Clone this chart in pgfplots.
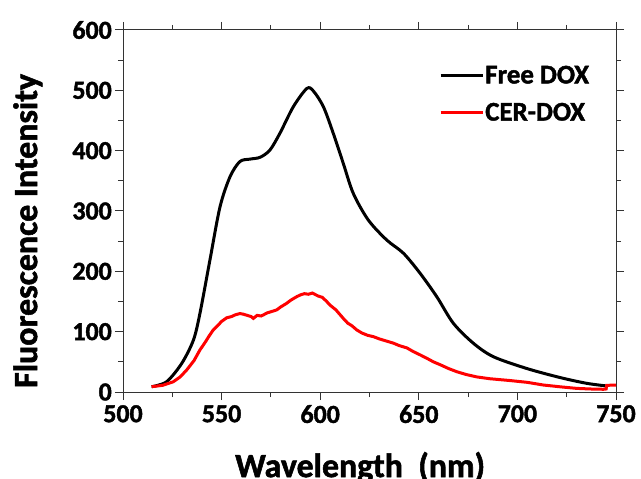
\documentclass[border=0pt]{standalone}
\usepackage{fontspec}
\setmainfont{Carlito}[BoldFeatures={FakeBold=1.6}]
\usepackage{pgfplots}
\pgfplotsset{compat=1.18}
\begin{document}
\begin{tikzpicture}
\useasboundingbox (0,0) rectangle (641bp,479bp);
\clip (0,0) rectangle (641bp,479bp);
\begin{axis}[
  at={(123bp,87bp)}, anchor=south west,
  scale only axis, width=493bp, height=362bp,
  xmin=500, xmax=750, ymin=0, ymax=600,
  xtick={500,550,...,750}, ytick={0,100,...,600},
  minor x tick num=1, minor y tick num=1,
  tick align=outside, tick pos=both,
  major tick length=8bp, minor tick length=5bp,
  axis line style={line width=1bp, black!80},
  every tick/.style={line width=1bp, black!80},
  /pgf/number format/assume math mode=true,
  ticklabel style={font=\fontsize{26}{26}\selectfont\bfseries, inner sep=0bp},
  xticklabel style={yshift=-5bp},
  yticklabel style={xshift=-3bp},
  xlabel={Wavelength\ \ (nm)},
  ylabel={Fluorescence Intensity},
  label style={font=\fontsize{34}{34}\selectfont\bfseries},
  xlabel style={at={(axis description cs:0.481,-0.235)}, anchor=base},
  ylabel style={at={(axis description cs:-0.193,0.445)}, anchor=center},
  legend style={draw=none, fill=none, at={(axis description cs:0.635,0.91)}, anchor=north west,
    font=\fontsize{27}{27}\selectfont\bfseries,
    row sep=16bp,
    nodes={inner sep=1bp}},
  legend cell align=left,
  legend image code/.code={\draw[#1] (0bp,0bp) -- (42bp,0bp);},
]
\addplot[black, line width=3bp, smooth] coordinates {
(514.5,8.8) (522.1,17) (529.8,47.5) (535.7,86) (539,130) (544.1,219) (549.2,307)
(554.3,357) (559.3,382) (564.4,386) (569.5,389) (574.5,401) (579.6,429) (586.4,473)
(593.2,503) (596.5,499) (601.6,473) (606.6,429) (611.7,379) (616.8,329) (624.4,285)
(633.7,252) (642.2,230) (650.6,197) (659.1,158) (667.5,114) (677.6,81) (687.8,58.5)
(704.7,39) (721.6,24) (735.1,14.4) (745.3,10)
};
\addlegendentry{Free DOX}
\addplot[red, line width=3bp] coordinates {
(514.5,8.8) (520,11) (525.5,17) (529,25) (532.3,36.5) (536,52) (539,69.6) (542,84) (543.5,92) (545.8,103)
(548,110) (550,117) (552.6,123) (555,125) (557,128) (559.3,130) (561,129) (563,127) (565,125) (566.1,122)
(568,127) (570,126) (571.1,127.6) (573,131) (575,133) (577.9,136) (580,141) (583,147) (585,152) (588.1,158)
(590,161) (592,163) (594,162) (596,164) (599,159) (601,157) (603,151) (605,144) (608,136) (611.7,122)
(614,114) (616,110) (618.5,103) (621,98) (624,94) (627,91.7) (630,88) (633,85) (637.1,81) (640,77)
(644,73) (647.2,67) (651,61) (654,56) (657.4,50) (661,45) (665,39) (669.2,33.7) (674,29) (679.4,25)
(686,22) (696.2,19) (705,16) (713.1,11.6) (722,8.5) (730,6) (737,5) (743.6,4.5) (745,5) (745.3,11) (750,11.6)
};
\addlegendentry{CER-DOX}
\end{axis}
\end{tikzpicture}
\end{document}
